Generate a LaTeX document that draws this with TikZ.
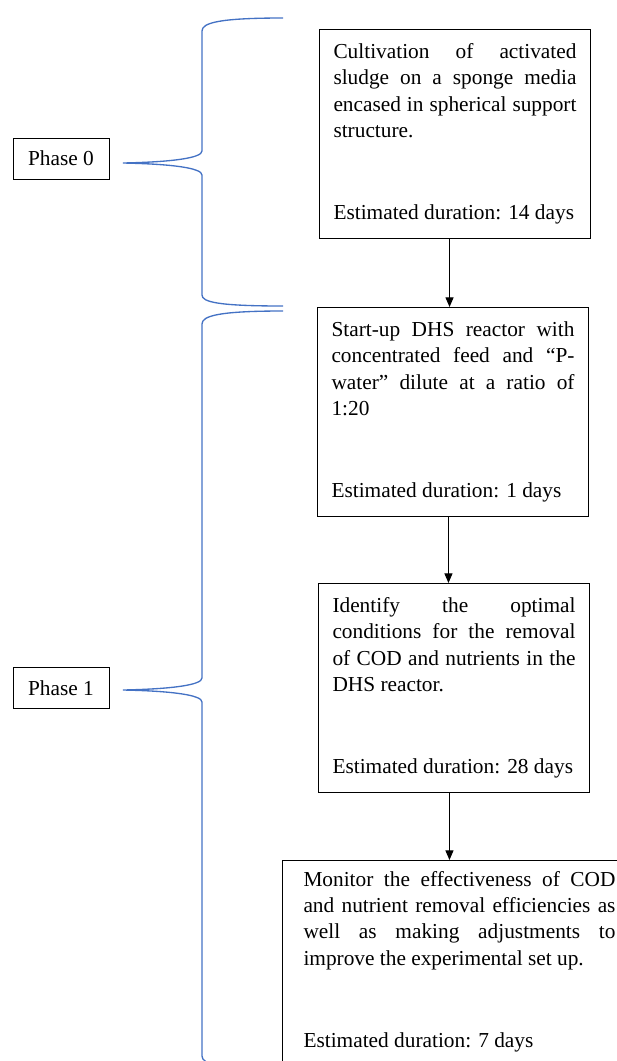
\documentclass[tikz,border=0pt]{standalone}
\usepackage{fontspec}
\setmainfont{Liberation Serif}
\usetikzlibrary{arrows.meta}

\newcommand\stepfont{\fontsize{16pt}{19.8pt}\selectfont\tolerance=9999 \hbadness=10000 }

\tikzset{every picture/.style={line width=0.75pt}}
\tikzset{
  stepbox/.style={draw, anchor=north west, inner xsep=10.5pt, inner ysep=10.5pt, font=\stepfont},
  phasebox/.style={draw, minimum width=72pt, minimum height=30.75pt, inner sep=0pt, font=\stepfont},
  bracepath/.style={draw={rgb, 255:red, 68; green, 114; blue, 196}, line width=1pt},
  flowarrow/.style={-{Triangle[length=7.2pt,width=6pt]}},
}

\begin{document}
\begin{tikzpicture}[x=0.75pt,y=0.75pt,yscale=-1,xscale=1]
	\useasboundingbox (0,0) rectangle (617,1061);
	\clip (0,0) rectangle (617,1061);

	%Shape: Brace [phase 0]
	\draw [bracepath] (283,18) .. controls (218,18) and (202,23) .. (202,31) -- (202,151) .. controls (202,158) and (172,162) .. (123,163) .. controls (172,164) and (202,168) .. (202,175) -- (202,295) .. controls (202,302) and (218,306) .. (283,306) ;
	%Shape: Brace [phase 1]
	\draw [bracepath] (283,311) .. controls (218,311) and (202,316) .. (202,324) -- (202,678) .. controls (202,685) and (172,689) .. (123,690) .. controls (172,691) and (202,695) .. (202,702) -- (202,1056) .. controls (202,1064) and (218,1069) .. (283,1069) ;

	% Text Node
	\node [phasebox] (p0) at (61,158.5) {Phase 0};
	% Text Node
	\node [phasebox] (p1) at (61,688) {Phase 1};

	%Shape: Rectangle [step 1]
	\node [stepbox] (s1) at (319,29) {\parbox[t][132.3pt][s]{182.25pt}{Cultivation of activated\linebreak sludge on a sponge media\linebreak encased in spherical support\linebreak structure.\par\vfill Estimated duration: 14 days}};
	%Shape: Rectangle [step 2]
	\node [stepbox] (s2) at (317,307) {\parbox[t][132.3pt][s]{182.25pt}{Start-up DHS reactor with\linebreak concentrated feed and “P-\linebreak water” dilute at a ratio of\linebreak 1:20\par\vfill Estimated duration: 1 days}};
	%Shape: Rectangle [step 3]
	\node [stepbox] (s3) at (318,583) {\parbox[t][132.3pt][s]{182.25pt}{Identify the optimal\linebreak conditions for the removal\linebreak of COD and nutrients in the\linebreak DHS reactor.\par\vfill Estimated duration: 28 days}};
	%Shape: Rectangle [step 4]
	\node [stepbox, inner xsep=15.75pt, inner ysep=8pt] (s4) at (282,860) {\parbox[t][132.3pt][s]{234pt}{Monitor the effectiveness of COD\linebreak and nutrient removal efficiencies as\linebreak well as making adjustments to\linebreak improve the experimental set up.\par\vfill Estimated duration: 7 days}};

	%Straight Lines
	\draw [flowarrow] ([xshift=-4.1pt]s1.south) coordinate (a1) -- (a1 |- s2.north) ;
	%Straight Lines
	\draw [flowarrow] ([xshift=-3.4pt]s2.south) coordinate (a2) -- (a2 |- s3.north) ;
	%Straight Lines
	\draw [flowarrow] ([xshift=-3.4pt]s3.south) coordinate (a3) -- (a3 |- s4.north) ;

\end{tikzpicture}
\end{document}
